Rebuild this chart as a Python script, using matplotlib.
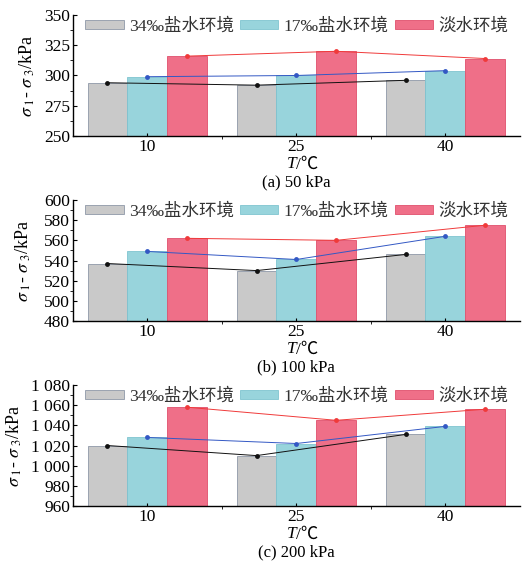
import numpy as np
import matplotlib.pyplot as plt
from matplotlib.ticker import MultipleLocator, FuncFormatter

plt.rcParams['font.family'] = ['Liberation Serif', 'Noto Sans CJK SC']
plt.rcParams['mathtext.fontset'] = 'stix'

#data
temps = ['10', '25', '40']
labels = ['34‰盐水环境', '17‰盐水环境', '淡水环境']
captions = ['(a) 50 kPa', '(b) 100 kPa', '(c) 200 kPa']

vals_50 = [[294, 292, 296], [299, 300, 304], [316, 320, 314]]
vals_100 = [[537, 530, 546], [549, 541, 564], [562, 560, 575]]
vals_200 = [[1020, 1010, 1031], [1028, 1022, 1039], [1058, 1045, 1056]]
all_vals = [vals_50, vals_100, vals_200]

ylims = [(250, 350), (480, 600), (960, 1080)]
ysteps = [25, 20, 20]

bar_colors = ['#c9c9c9', '#98d4dc', '#ef6f88']
edge_colors = ['#8f98a8', '#7fc4d0', '#e0506c']
line_colors = ['#111111', '#3358c4', '#f03a3a']

def thousands(v, pos):
    s = f"{int(round(v))}"
    if len(s) > 3:
        s = s[:-3] + ' ' + s[-3:]
    return s

fig = plt.figure(figsize=(5.31, 5.61), dpi=100)
bottoms = [0.7576, 0.4278, 0.098]
ylab_x = [-0.08, -0.088, -0.11]
w = 0.267
x = np.arange(len(temps))

for p in range(3):
    ax = fig.add_axes([0.137, bottoms[p], 0.842, 0.2157])
    vals = all_vals[p]
    for i in range(3):
        xi = x + (i - 1) * w
        ax.bar(xi, np.array(vals[i]) - ylims[p][0], w, bottom=ylims[p][0],
               color=bar_colors[i], edgecolor=edge_colors[i], linewidth=0.6, label=labels[i], zorder=1)
        ax.plot(xi, vals[i], color=line_colors[i], linewidth=0.7, marker='o', markersize=3.5,
                markerfacecolor=line_colors[i], markeredgewidth=0, zorder=3)

    ax.set_xlim(-0.5, 2.5)
    ax.set_ylim(*ylims[p])
    ax.yaxis.set_major_locator(MultipleLocator(ysteps[p]))
    ax.yaxis.set_minor_locator(MultipleLocator(ysteps[p] / 2))
    ax.yaxis.set_major_formatter(FuncFormatter(thousands))
    ax.set_xticks(x)
    ax.set_xticklabels(temps)
    ax.set_xticks([0.5, 1.5], minor=True)
    ax.tick_params(axis='both', direction='in', labelsize=12.5, length=3, width=0.8, pad=2)
    ax.tick_params(axis='x', which='both', length=2)
    ax.tick_params(axis='y', which='minor', length=2)
    ax.spines['top'].set_visible(False)
    ax.spines['right'].set_visible(False)
    ax.spines['left'].set_linewidth(1.0)
    ax.spines['bottom'].set_linewidth(1.0)

    ax.set_ylabel(r'$\sigma_{\ 1}$- $\sigma_{\ 3}$/kPa', fontsize=13)
    ax.yaxis.set_label_coords(ylab_x[p], 0.5)
    # x label: italic T plus /℃ (℃ not in mathtext font)
    ax.text(0.5, -0.235, 'T', transform=ax.transAxes, ha='right', va='center',
            fontsize=12.5, fontstyle='italic')
    ax.text(0.5, -0.235, '/℃', transform=ax.transAxes, ha='left', va='center', fontsize=12.5)
    ax.text(0.5, -0.385, captions[p], transform=ax.transAxes, ha='center', va='center', fontsize=12)

    ax.legend(loc='upper left', bbox_to_anchor=(0.012, 1.03), ncol=3, frameon=False,
              fontsize=12.6, handlelength=2.2, handleheight=0.45, handletextpad=0.3,
              columnspacing=0.35, borderaxespad=0, labelcolor='#333333')

fig.savefig('out.png', dpi=100)
